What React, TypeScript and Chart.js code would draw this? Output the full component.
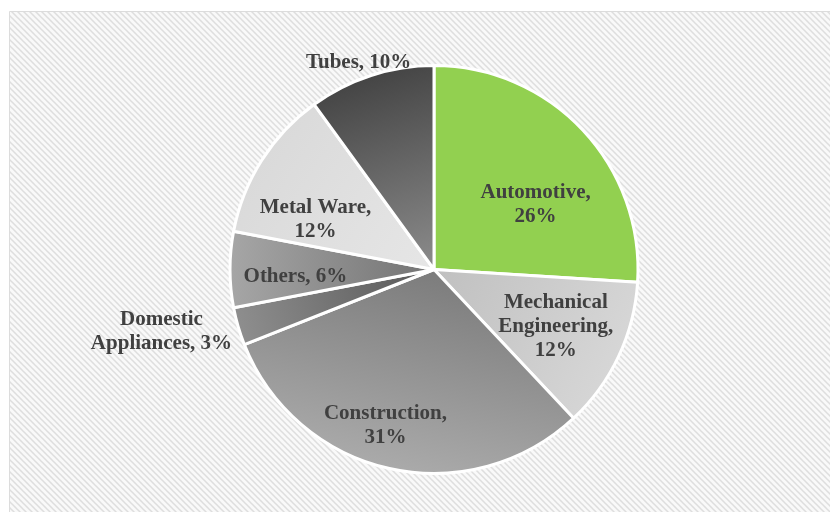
import React, { useEffect, useRef } from "react";
import { Chart, registerables } from "chart.js";

Chart.register(...registerables);

const categories = [
  "Automotive",
  "Mechanical Engineering",
  "Construction",
  "Domestic Appliances",
  "Others",
  "Metal Ware",
  "Tubes",
];
const shares = [26, 12, 31, 3, 6, 12, 10];
const labelLines = [
  ["Automotive,", "26%"],
  ["Mechanical", "Engineering,", "12%"],
  ["Construction,", "31%"],
  ["Domestic", "Appliances, 3%"],
  ["Others, 6%"],
  ["Metal Ware,", "12%"],
  ["Tubes, 10%"],
];
// inner (near centre) and outer colours of each slice's gradient
const innerColors = ["#92d050", "#c0c0c0", "#7c7c7c", "#575757", "#737373", "#e6e6e6", "#8c8c8c"];
const outerColors = ["#92d050", "#d6d6d6", "#aaaaaa", "#8e8e8e", "#a6a6a6", "#dadada", "#454545"];
// label placement: angle shift (deg) from the slice middle, and fraction of the radius
const labelAngleShift = [10.8, 0, 4.7, 3.4, -2.9, -9.6, -2];
const labelRadius = [0.59, 0.66, 0.8, 1.37, 0.68, 0.63, 1.08];

const backgroundPlugin = {
  id: "hatchBg",
  beforeDraw(chart: any) {
    const ctx = chart.ctx;
    const tile = document.createElement("canvas");
    tile.width = 6;
    tile.height = 6;
    const t = tile.getContext("2d")!;
    t.fillStyle = "#f9f9f9";
    t.fillRect(0, 0, 6, 6);
    t.strokeStyle = "#dedede";
    t.lineWidth = 1.5;
    t.beginPath();
    t.moveTo(-1, -1);
    t.lineTo(7, 7);
    t.moveTo(-4, 2);
    t.lineTo(4, 10);
    t.moveTo(2, -4);
    t.lineTo(10, 4);
    t.stroke();
    const pattern = ctx.createPattern(tile, "repeat");
    ctx.save();
    ctx.fillStyle = "#ffffff";
    ctx.fillRect(0, 0, chart.width, chart.height);
    ctx.fillStyle = pattern;
    ctx.fillRect(9, 11, chart.width - 9, chart.height - 11);
    ctx.strokeStyle = "#dcdcdc";
    ctx.lineWidth = 1;
    ctx.beginPath();
    ctx.moveTo(9.5, chart.height);
    ctx.lineTo(9.5, 11.5);
    ctx.lineTo(chart.width, 11.5);
    ctx.stroke();
    ctx.restore();
  },
};

const labelPlugin = {
  id: "sliceLabels",
  afterDatasetsDraw(chart: any) {
    const ctx = chart.ctx;
    const meta = chart.getDatasetMeta(0);
    ctx.save();
    ctx.font = "bold 21px 'Liberation Serif', 'Times New Roman', serif";
    ctx.textAlign = "center";
    ctx.textBaseline = "middle";
    ctx.fillStyle = "#404040";
    meta.data.forEach((arc: any, i: number) => {
      const p = arc.getProps(["x", "y", "startAngle", "endAngle", "outerRadius"], true);
      const a = (p.startAngle + p.endAngle) / 2 + (labelAngleShift[i] * Math.PI) / 180;
      const r = p.outerRadius * labelRadius[i];
      const cx = p.x + Math.cos(a) * r;
      const cy = p.y + Math.sin(a) * r;
      const lines = labelLines[i];
      const lh = 24;
      lines.forEach((ln, k) => {
        ctx.fillText(ln, cx, cy + (k - (lines.length - 1) / 2) * lh);
      });
    });
    ctx.restore();
  },
};

export default function App() {
  const ref = useRef<HTMLCanvasElement>(null);
  useEffect(() => {
    if (!ref.current) return;
    const total = shares.reduce((s, v) => s + v, 0);
    const chart = new Chart(ref.current, {
      type: "pie",
      data: {
        labels: categories,
        datasets: [
          {
            data: shares,
            borderColor: "#ffffff",
            borderWidth: 3,
            backgroundColor: (c: any) => {
              const i = c.dataIndex;
              const area = c.chart.chartArea;
              if (c.type !== "data" || !area) return innerColors[i];
              const cx = (area.left + area.right) / 2;
              const cy = (area.top + area.bottom) / 2;
              const R = (Math.min(area.right - area.left, area.bottom - area.top) - 3) / 2;
              let before = 0;
              for (let k = 0; k < i; k++) before += shares[k];
              const mid = -Math.PI / 2 + ((before + shares[i] / 2) / total) * Math.PI * 2;
              const g = c.chart.ctx.createLinearGradient(
                cx,
                cy,
                cx + Math.cos(mid) * R,
                cy + Math.sin(mid) * R
              );
              g.addColorStop(0, innerColors[i]);
              g.addColorStop(1, outerColors[i]);
              return g;
            },
          },
        ],
      },
      options: {
        animation: false,
        responsive: false,
        layout: { padding: { left: 200, right: 162, top: 64, bottom: 37 } },
        plugins: {
          legend: { display: false },
          tooltip: { enabled: false },
        },
      },
      plugins: [backgroundPlugin, labelPlugin],
    });
    return () => chart.destroy();
  }, []);
  return (
    <div style={{ position: "absolute", left: 0, top: 0, width: 830, height: 512 }}>
      <canvas ref={ref} width={830} height={512} style={{ display: "block" }} />
    </div>
  );
}
